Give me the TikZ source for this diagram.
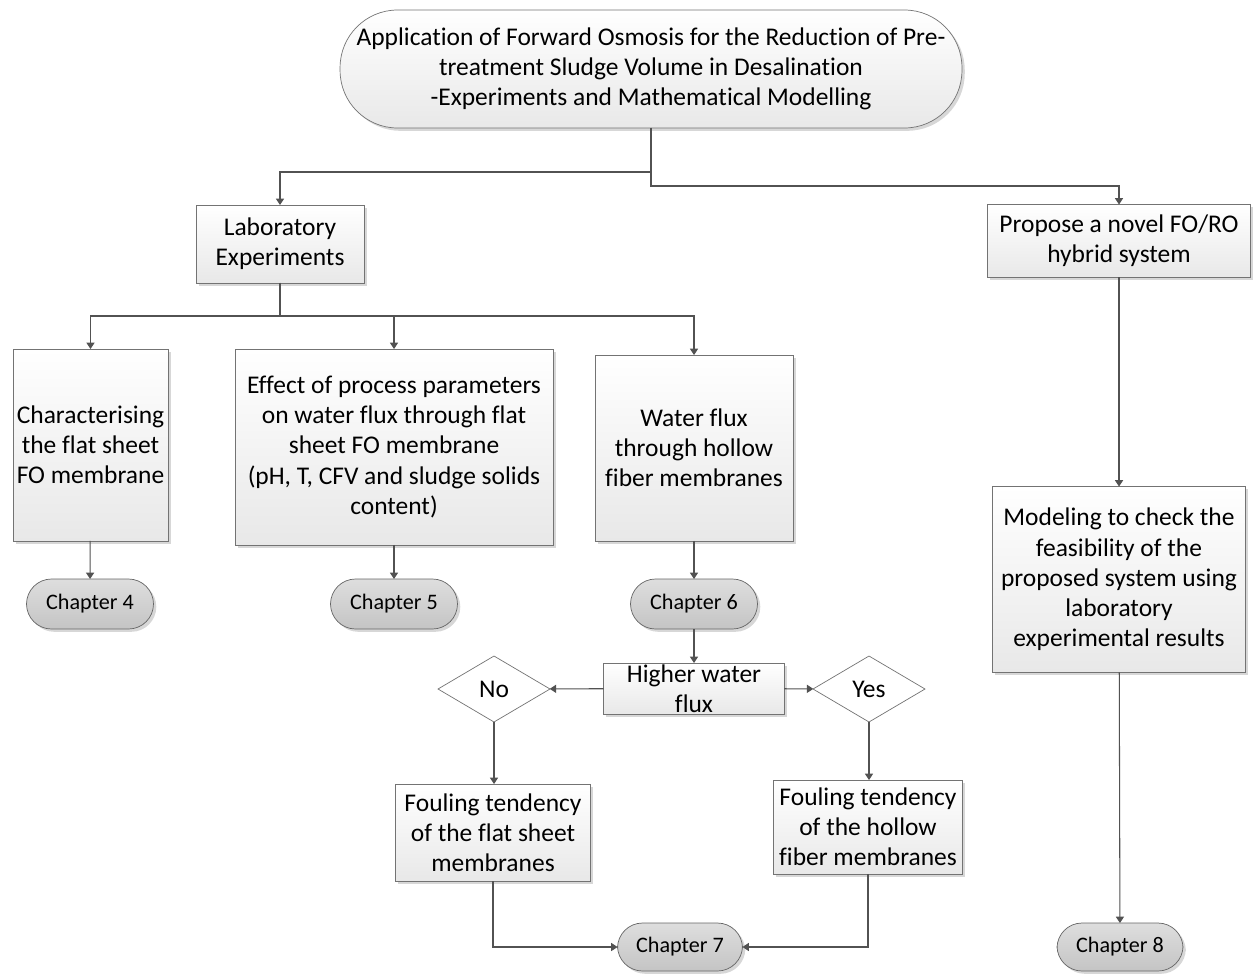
\documentclass[tikz,border=0pt]{standalone}
\usepackage{fontspec}
\setmainfont{Carlito}[Ligatures=NoCommon]
\usetikzlibrary{positioning,shapes.geometric,arrows.meta,shadows}

\begin{document}
\begin{tikzpicture}[x=0.02cm,y=-0.02cm,
    every node/.style={font=\fontsize{14.5}{17.2}\selectfont,align=center,inner sep=0pt,outer sep=0pt},
    softshadow/.style={drop shadow={shadow xshift=1.6pt,shadow yshift=-1.6pt,fill=black!35,opacity=0.45}},
    box/.style={rectangle,draw=black!55,top color=white,bottom color=black!9,softshadow},
    chap/.style={rectangle,rounded corners=0.5cm,draw=black!60,top color=black!13,bottom color=black!23,
                 minimum width=2.54cm,minimum height=1cm,font=\fontsize{12.6}{15}\selectfont,softshadow},
    decide/.style={diamond,draw=black!55,fill=white,minimum width=2.24cm,minimum height=1.32cm}]

    \useasboundingbox (0,0) rectangle (1253,974);

    % top of the tree
    \node[box,rounded corners=1.15cm,minimum width=12.44cm,minimum height=2.36cm] (title) at (651,69)
        {Application of Forward Osmosis for the Reduction of Pre-\\treatment Sludge Volume in Desalination\\-Experiments and Mathematical Modelling};
    \node[box,minimum width=3.36cm,minimum height=1.56cm] (lab) at (280,244) {Laboratory\\Experiments};
    \node[box,minimum width=5.26cm,minimum height=1.46cm] (propose) at (1119,241) {Propose a novel FO/RO\\hybrid system};

    % experiments
    \node[box,minimum width=3.1cm,minimum height=3.84cm] (flat) at (90.5,445) {Characterising\\the flat sheet\\FO membrane};
    \node[box,minimum width=6.36cm,minimum height=3.92cm] (effect) at (394,447)
        {Effect of process parameters\\on water flux through flat\\sheet FO membrane\\(pH, T, CFV and sludge solids\\content)};
    \node[box,minimum width=3.96cm,minimum height=3.72cm] (hollow) at (694,448) {Water flux\\through hollow\\fiber membranes};

    \node[chap] (ch4) at (90,604) {Chapter 4};
    \node[chap] (ch5) at (394,604) {Chapter 5};
    \node[chap] (ch6) at (694,604) {Chapter 6};

    % decision
    \node[box,minimum width=3.62cm,minimum height=1.02cm] (higher) at (694,688.5) {};
    \node (higherlbl) at (694,689) {Higher water\\flux};
    \node[decide] (no) at (494,689) {No};
    \node[decide] (yes) at (869,689) {Yes};

    \node[box,minimum width=3.9cm,minimum height=1.94cm] (foulflat) at (493,832.5) {Fouling tendency\\of the flat sheet\\membranes};
    \node[box,minimum width=3.78cm,minimum height=1.88cm] (foulhollow) at (868,827) {Fouling tendency\\of the hollow\\fiber membranes};
    \node[chap,minimum width=2.5cm,minimum height=0.96cm] (ch7) at (680,947) {Chapter 7};

    % modelling
    \node[box,minimum width=5.06cm,minimum height=3.72cm] (model) at (1119,579.5)
        {Modeling to check the\\feasibility of the\\proposed system using\\laboratory\\experimental results};
    \node[chap,minimum width=2.52cm,minimum height=0.96cm] (ch8) at (1120,947) {Chapter 8};

    \begin{scope}[>={Triangle[length=3.6pt,width=4.6pt]},
                  every path/.style={draw=black!68,line width=0.6pt}]
        \draw[->] (title.south) -- ++(0,44) -| (lab.north);
        \draw[->] (title.south) -- ++(0,58) -| (propose.north);
        \draw[->] (lab.south) -- ++(0,33) -| (flat.north);
        \draw[->] (lab.south) -- ++(0,33) -| (effect.north);
        \draw[->] (lab.south) -- ++(0,33) -| (hollow.north);
        \path [->] (flat) edge (ch4);
        \path [->] (effect) edge (ch5);
        \path [->] (hollow) edge (ch6);
        \path [->] (ch6) edge (higher);
        \path [->] (higher) edge (no);
        \path [->] (higher) edge (yes);
        \draw[->] (no.south) -- (no.south |- foulflat.north);
        \draw[->] (yes.south) -- (yes.south |- foulhollow.north);
        \draw[->] (foulflat.south) |- (ch7.west);
        \draw[->] (foulhollow.south) |- (ch7.east);
        \path [->] (propose) edge (model);
        \path [->] (model) edge (ch8);
    \end{scope}
\end{tikzpicture}
\end{document}
